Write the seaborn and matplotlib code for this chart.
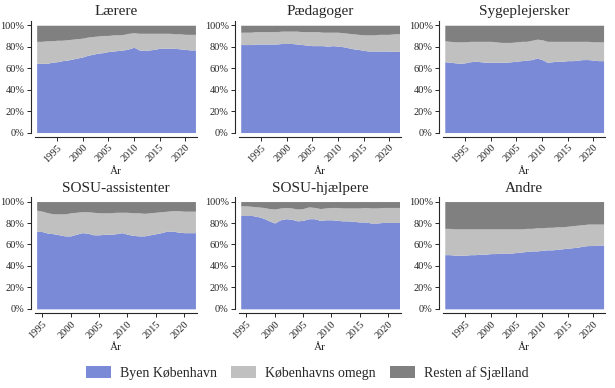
import numpy as np
import matplotlib
matplotlib.use("Agg")
import matplotlib.pyplot as plt
import seaborn as sns
from matplotlib.ticker import PercentFormatter
from matplotlib.patches import Patch

# andele i procent, fra billedet
years_long = list(range(1991, 2023))
years_sosu = list(range(1994, 2023))

laerere_byen = [64.5,64.5,64.5,65.5,66,67,67.5,68.5,69.5,70.5,72,73,74,74.5,75.5,76,
                76.5,77,78,79.5,77,76.5,77,77.5,78.5,78.5,78.5,78.5,78,77.5,77,77]
laerere_omegn = [20.5,20.5,21,20,20,19,19,18.5,18,17.5,17,16.5,16,16,15,15,
                 14.5,14.5,14.5,13.5,15.5,16,15.5,15,14,14,14,13.5,14,14,14.5,14.5]
laerere_rest = [15,15,14.5,14.5,14,14,13.5,13,12.5,12,11,10.5,10,9.5,9.5,9,
                9,8.5,7.5,7,7.5,7.5,7.5,7.5,7.5,7.5,7.5,8,8,8.5,8.5,8.5]

paed_byen = [82,82,82,82.5,82.5,82.5,82.5,82.5,83,83,83,82.5,82,81.5,81,81,
             81,80.5,81,80.5,80,79,78,77.5,76.5,76,76,76,76,76,75.5,76]
paed_omegn = [11.5,11.5,11.5,11.5,11.5,11.5,11.5,11.5,11.5,11.5,11.5,12,12,12.5,13,13,
              12.5,13,12.5,13,13,13.5,14,14,14.5,15,15,15.5,15.5,15.5,16.5,16]
paed_rest = [6.5,6.5,6.5,6,6,6,6,6,5.5,5.5,5.5,5.5,6,6,6,6,
             6.5,6.5,6.5,6.5,7,7.5,8,8.5,9,9,9,8.5,8.5,8.5,8,8]

syge_byen = [66,65.5,65,64.5,65,66,66.5,66,65.5,65.5,65.5,65.5,65.5,66,66.5,67,
             67.5,68,69.5,68,65.5,66,66.5,66.5,67,67,67.5,68,68,67.5,67,67]
syge_omegn = [19.5,19.5,19.5,20,19.5,19,18.5,19,19.5,19.5,19,18.5,18.5,18,18,18,
              17.5,18,17.5,18.5,19.5,19,18.5,18.5,18,18,17.5,17,17,17,17.5,17.5]
syge_rest = [14.5,15,15.5,15.5,15.5,15,15,15,15,15,15.5,16,16,16,15.5,15,
             15,14,13,13.5,15,15,15,15,15,15,15,15,15,15.5,15.5,15.5]

assist_byen = [72.5,72,70.5,70,69,68,68,69.5,71,70.5,69,69,69.5,69.5,70,
               71,69.5,68.5,68,68,69,70,71,72.5,72.5,71.5,71,71,71]
assist_omegn = [19.5,19,19,18.5,19.5,20.5,21.5,20.5,19.5,20,21,20.5,20,20,20,
                19,20.5,21,21.5,21,20.5,20,19.5,18.5,19,20,20,20,20]
assist_rest = [8,9,10.5,11.5,11.5,11.5,10.5,10,9.5,9.5,10,10.5,10.5,10.5,10,
               10,10,10.5,10.5,11,10.5,10,9.5,9,8.5,8.5,9,9,9]

hjaelp_byen = [87,87,87,86,84.5,82,80,83,84,83.5,82,82.5,84,84,82.5,
               83,83,82.5,82,82,81.5,81,81,80,80,80.5,80.5,80.5,80.5]
hjaelp_omegn = [9,9,8.5,9,10,11.5,13,11,10.5,10.5,11,11,11,10.5,11,
                11,11.5,12,12,12,12.5,13,13.5,14,14,14,14,14,14]
hjaelp_rest = [4,4,4.5,5,5.5,6.5,7,6,5.5,6,7,6.5,5,5.5,6.5,
               6,5.5,5.5,6,6,6,6,5.5,6,6,5.5,5.5,5.5,5.5]

andre_byen = [50.5,50.5,50,50,50,50.5,50.5,51,51,51.5,51.5,52,52,52,52.5,53,
              53.5,54,54,54.5,55,55,55.5,56,56.5,57,57.5,58.5,59,59,59.5,59.5]
andre_omegn = [24.5,24.5,24.5,24.5,24.5,24,24,23.5,23.5,23,23,22.5,22.5,22.5,22,21.5,
               21.5,21,21.5,21,21,21,21,20.5,20.5,20.5,20.5,20,20,20,19.5,19.5]
andre_rest = [25,25,25.5,25.5,25.5,25.5,25.5,25.5,25.5,25.5,25.5,25.5,25.5,25.5,25.5,25.5,
              25,25,24.5,24.5,24,24,23.5,23.5,23,22.5,22,21.5,21,21,21,21]

titles = ["Lærere", "Pædagoger", "Sygeplejersker", "SOSU-assistenter", "SOSU-hjælpere", "Andre"]
series = [
    (years_long, laerere_byen, laerere_omegn, laerere_rest),
    (years_long, paed_byen, paed_omegn, paed_rest),
    (years_long, syge_byen, syge_omegn, syge_rest),
    (years_sosu, assist_byen, assist_omegn, assist_rest),
    (years_sosu, hjaelp_byen, hjaelp_omegn, hjaelp_rest),
    (years_long, andre_byen, andre_omegn, andre_rest),
]
labels = ["Byen København", "Københavns omegn", "Resten af Sjælland"]
colors = ["#7a8ad6", "#c0c0c0", "#808080"]
xticks = [1995, 2000, 2005, 2010, 2015, 2020]

sns.set_theme(style="ticks")
plt.rcParams["font.family"] = ["Liberation Serif", "DejaVu Serif"]

fig, axes = plt.subplots(2, 3, figsize=(6.15, 3.88), dpi=100)
fig.subplots_adjust(left=0.057, right=0.984, top=0.946, bottom=0.204, wspace=0.26, hspace=0.58)

for ax, title, (yrs, b, o, r) in zip(axes.flat, titles, series):
    ax.stackplot(yrs, np.array(b) / 100, np.array(o) / 100, np.array(r) / 100,
                 colors=colors, linewidth=0)
    ax.set_ylim(0, 1.04)
    ax.margins(x=0.01)
    ax.set_yticks([0, 0.2, 0.4, 0.6, 0.8, 1.0])
    ax.yaxis.set_major_formatter(PercentFormatter(1.0, decimals=0))
    ax.set_title(title, fontsize=11, pad=4)
    ax.set_xlabel("År", fontsize=8, labelpad=2)
    for s in ax.spines.values():
        s.set_linewidth(0.8)
    sns.despine(ax=ax, offset=3)
    ax.set_xticks(xticks, labels=[str(x) for x in xticks], rotation=45,
                  ha="right", rotation_mode="anchor")
    ax.tick_params(axis="both", labelsize=7.5, length=3, width=0.7, pad=1.5)

handles = [Patch(facecolor=c, edgecolor="none") for c in colors]
fig.legend(handles, labels, loc="center", bbox_to_anchor=(0.5, 0.039), ncol=3,
           frameon=False, fontsize=10, handlelength=1.8, handleheight=0.9,
           handletextpad=0.65, columnspacing=1.0)

fig.savefig("out.png", dpi=100)
